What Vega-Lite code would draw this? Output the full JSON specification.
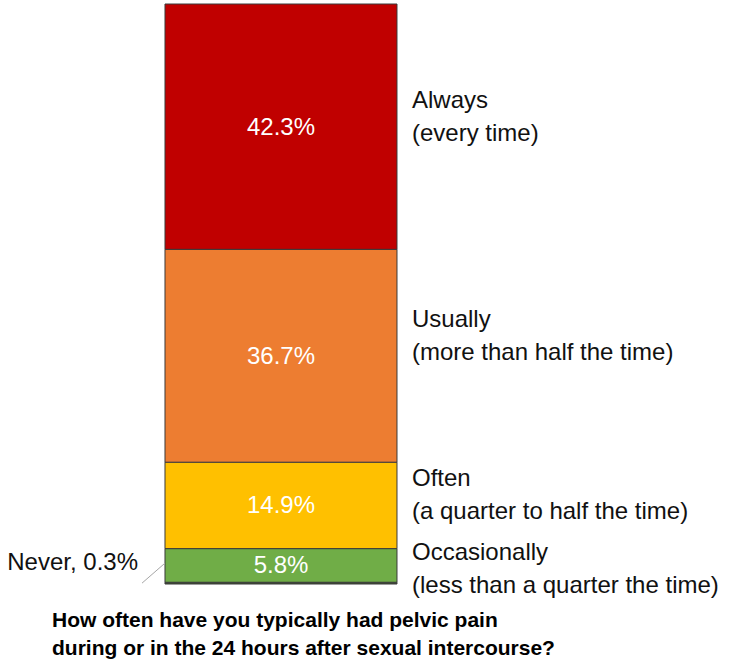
{
  "$schema": "https://vega.github.io/schema/vega-lite/v6.json",
  "autosize": "none",
  "width": 735,
  "height": 580,
  "padding": {"top": 4, "bottom": 76, "left": 0, "right": 0},
  "background": "white",
  "config": {"view": {"stroke": null}, "text": {"font": "Liberation Sans"}},
  "title": {
    "text": ["How often have you typically had pelvic pain", "during or in the 24 hours after sexual intercourse?"],
    "orient": "bottom",
    "anchor": "start",
    "frame": "group",
    "dx": 52,
    "offset": 12,
    "fontSize": 21,
    "fontWeight": "bold",
    "font": "Liberation Sans",
    "lineHeight": 28,
    "color": "#000000"
  },
  "data": {
    "values": [
      {"cat": "Never", "label": "Never, 0.3%", "share": 0.003, "rank": 1},
      {"cat": "Occasionally", "label": "Occasionally\n(less than a quarter the time)", "share": 0.058, "rank": 2},
      {"cat": "Often", "label": "Often\n(a quarter to half the time)", "share": 0.149, "rank": 3},
      {"cat": "Usually", "label": "Usually\n(more than half the time)", "share": 0.367, "rank": 4},
      {"cat": "Always", "label": "Always\n(every time)", "share": 0.423, "rank": 5}
    ]
  },
  "transform": [
    {"stack": "share", "groupby": [], "sort": [{"field": "rank", "order": "ascending"}], "as": ["y0", "y1"]},
    {"calculate": "(datum.y0 + datum.y1) / 2", "as": "mid"}
  ],
  "layer": [
    {
      "mark": {"type": "bar", "stroke": "#3a3a3a", "strokeWidth": 1},
      "encoding": {
        "x": {"datum": 0, "type": "quantitative", "scale": {"domain": [-0.7112, 2.4569], "nice": false, "zero": false}, "axis": null},
        "x2": {"datum": 1},
        "y": {"field": "y0", "type": "quantitative", "scale": {"domain": [0, 1], "nice": false}, "axis": null},
        "y2": {"field": "y1"},
        "color": {
          "field": "cat",
          "type": "nominal",
          "scale": {"domain": ["Always", "Usually", "Often", "Occasionally", "Never"], "range": ["#C00000", "#ED7D31", "#FFC000", "#70AD47", "#3f4a33"]},
          "legend": null
        }
      }
    },
    {
      "transform": [{"filter": "datum.rank >= 2"}],
      "mark": {"type": "text", "color": "white", "fontSize": 24, "baseline": "middle", "align": "center", "dy": 1},
      "encoding": {
        "x": {"datum": 0.5, "type": "quantitative"},
        "y": {"field": "mid", "type": "quantitative"},
        "text": {"field": "share", "type": "quantitative", "format": ".1%"}
      }
    },
    {
      "transform": [{"filter": "datum.rank == 3 || datum.rank == 5"}],
      "mark": {"type": "text", "color": "#111111", "fontSize": 24, "baseline": "middle", "align": "left", "dx": 15, "dy": -26, "lineBreak": "\n", "lineHeight": 33},
      "encoding": {
        "x": {"datum": 1, "type": "quantitative"},
        "y": {"field": "mid", "type": "quantitative"},
        "text": {"field": "label", "type": "nominal"}
      }
    },
    {
      "transform": [{"filter": "datum.rank == 4"}],
      "mark": {"type": "text", "color": "#111111", "fontSize": 24, "baseline": "middle", "align": "left", "dx": 15, "dy": -36, "lineBreak": "\n", "lineHeight": 33},
      "encoding": {
        "x": {"datum": 1, "type": "quantitative"},
        "y": {"field": "mid", "type": "quantitative"},
        "text": {"field": "label", "type": "nominal"}
      }
    },
    {
      "transform": [{"filter": "datum.rank == 2"}],
      "mark": {"type": "text", "color": "#111111", "fontSize": 24, "baseline": "middle", "align": "left", "dx": 15, "dy": -12, "lineBreak": "\n", "lineHeight": 33},
      "encoding": {
        "x": {"datum": 1, "type": "quantitative"},
        "y": {"field": "mid", "type": "quantitative"},
        "text": {"field": "label", "type": "nominal"}
      }
    },
    {
      "transform": [{"filter": "datum.rank == 1"}],
      "mark": {"type": "text", "color": "#111111", "fontSize": 24, "baseline": "middle", "align": "right", "dx": -27, "dy": -20},
      "encoding": {
        "x": {"datum": 0, "type": "quantitative"},
        "y": {"field": "mid", "type": "quantitative"},
        "text": {"field": "label", "type": "nominal"}
      }
    },
    {
      "transform": [{"filter": "datum.rank == 1"}],
      "mark": {"type": "rule", "color": "#a6a6a6", "strokeWidth": 1},
      "encoding": {
        "x": {"datum": -0.099, "type": "quantitative"},
        "x2": {"datum": 0},
        "y": {"field": "mid", "type": "quantitative"},
        "y2": {"datum": 0.036}
      }
    }
  ]
}
